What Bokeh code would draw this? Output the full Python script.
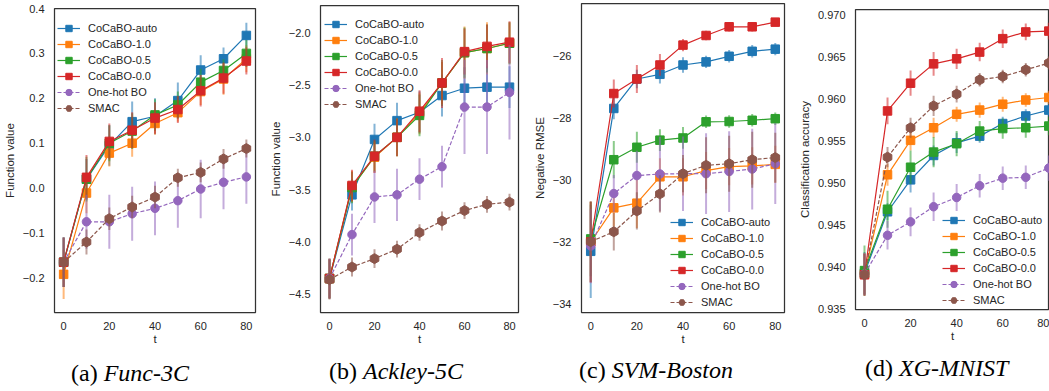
import numpy as np
from bokeh.plotting import figure
from bokeh.layouts import row, column
from bokeh.models import Legend, LegendItem, FixedTicker, Range1d, Div, GlobalInlineStyleSheet
from bokeh.embed import file_html
from bokeh.resources import INLINE

t = [0, 10, 20, 30, 40, 50, 60, 70, 80]
names = ["CoCaBO-auto", "CoCaBO-1.0", "CoCaBO-0.5", "CoCaBO-0.0", "One-hot BO", "SMAC"]
colors = ["#1f77b4", "#ff7f0e", "#2ca02c", "#d62728", "#9467bd", "#8c564b"]
markers = ["square", "square", "square", "square", "circle", "hex"]
dashes = ["solid", "solid", "solid", "solid", "4 2", "4 2"]

# (a) Func-3C
a_auto = [-0.165, 0.020, 0.095, 0.148, 0.160, 0.195, 0.263, 0.288, 0.340]
a_10 = [-0.192, -0.011, 0.078, 0.100, 0.144, 0.168, 0.215, 0.243, 0.288]
a_05 = [-0.165, 0.020, 0.100, 0.127, 0.163, 0.185, 0.236, 0.262, 0.300]
a_00 = [-0.165, 0.024, 0.104, 0.129, 0.156, 0.175, 0.217, 0.245, 0.283]
a_oh = [-0.165, -0.075, -0.075, -0.057, -0.045, -0.028, -0.002, 0.013, 0.025]
a_smac = [-0.165, -0.120, -0.068, -0.042, -0.020, 0.023, 0.035, 0.065, 0.088]
a_err_auto = [0.055, 0.045, 0.045, 0.045, 0.040, 0.040, 0.033, 0.025, 0.028]
a_err_10 = [0.055, 0.045, 0.030, 0.030, 0.025, 0.020, 0.030, 0.035, 0.030]
a_err_05 = [0.055, 0.050, 0.040, 0.040, 0.035, 0.030, 0.030, 0.025, 0.030]
a_err_00 = [0.055, 0.050, 0.040, 0.040, 0.035, 0.030, 0.035, 0.035, 0.030]
a_err_oh = [0.055, 0.060, 0.060, 0.060, 0.060, 0.060, 0.065, 0.060, 0.060]
a_err_smac = [0.055, 0.028, 0.025, 0.025, 0.025, 0.020, 0.022, 0.022, 0.020]

# (b) Ackley-5C
b_auto = [-4.35, -3.55, -3.02, -2.84, -2.76, -2.60, -2.53, -2.52, -2.52]
b_10 = [-4.35, -3.47, -3.19, -3.00, -2.77, -2.48, -2.19, -2.15, -2.10]
b_05 = [-4.35, -3.48, -3.18, -3.00, -2.79, -2.48, -2.19, -2.15, -2.10]
b_00 = [-4.35, -3.46, -3.18, -3.00, -2.75, -2.48, -2.18, -2.13, -2.09]
b_oh = [-4.35, -3.93, -3.57, -3.55, -3.40, -3.28, -2.71, -2.71, -2.57]
b_smac = [-4.36, -4.24, -4.16, -4.07, -3.91, -3.80, -3.70, -3.64, -3.62]
b_err_auto = [0.19, 0.15, 0.15, 0.17, 0.20, 0.20, 0.20, 0.20, 0.20]
b_err_10 = [0.19, 0.15, 0.15, 0.18, 0.20, 0.20, 0.25, 0.25, 0.20]
b_err_05 = [0.19, 0.15, 0.15, 0.18, 0.20, 0.22, 0.24, 0.23, 0.20]
b_err_00 = [0.19, 0.15, 0.16, 0.18, 0.20, 0.24, 0.22, 0.21, 0.20]
b_err_oh = [0.19, 0.20, 0.25, 0.25, 0.20, 0.20, 0.45, 0.45, 0.45]
b_err_smac = [0.19, 0.09, 0.09, 0.08, 0.08, 0.09, 0.08, 0.08, 0.08]

# (c) SVM-Boston
c_auto = [-32.30, -27.70, -26.75, -26.60, -26.30, -26.20, -26.02, -25.86, -25.79]
c_10 = [-32.00, -30.90, -30.75, -29.90, -29.90, -29.70, -29.57, -29.55, -29.50]
c_05 = [-31.90, -29.35, -28.95, -28.72, -28.65, -28.13, -28.12, -28.08, -28.03]
c_00 = [-32.00, -27.22, -26.75, -26.30, -25.66, -25.35, -25.07, -25.07, -24.92]
c_oh = [-32.13, -30.44, -29.86, -29.81, -29.80, -29.80, -29.73, -29.65, -29.48]
c_smac = [-31.99, -31.67, -31.00, -30.45, -29.80, -29.53, -29.48, -29.35, -29.28]
c_err_auto = [1.5, 0.35, 0.30, 0.30, 0.25, 0.20, 0.20, 0.20, 0.20]
c_err_10 = [1.3, 0.60, 0.80, 0.60, 0.60, 0.60, 0.60, 0.60, 0.60]
c_err_05 = [1.2, 0.60, 0.50, 0.35, 0.35, 0.20, 0.20, 0.20, 0.20]
c_err_00 = [1.3, 0.45, 0.45, 0.35, 0.20, 0.15, 0.15, 0.15, 0.12]
c_err_oh = [1.2, 0.60, 0.80, 1.20, 1.20, 1.30, 1.30, 1.30, 1.30]
c_err_smac = [1.3, 0.60, 0.60, 0.60, 0.60, 0.90, 0.90, 0.90, 0.80]

# (d) XG-MNIST
d_auto = [0.9393, 0.9466, 0.9504, 0.9533, 0.9548, 0.9556, 0.9571, 0.9580, 0.9587]
d_10 = [0.9392, 0.9510, 0.9551, 0.9566, 0.9582, 0.9587, 0.9594, 0.9599, 0.9602]
d_05 = [0.9396, 0.9469, 0.9519, 0.9537, 0.9547, 0.9562, 0.9565, 0.9566, 0.9568]
d_00 = [0.9391, 0.9586, 0.9619, 0.9642, 0.9648, 0.9656, 0.9672, 0.9680, 0.9681]
d_oh = [0.9392, 0.9438, 0.9454, 0.9472, 0.9483, 0.9497, 0.9506, 0.9507, 0.9518]
d_smac = [0.9391, 0.9531, 0.9566, 0.9592, 0.9606, 0.9623, 0.9627, 0.9635, 0.9643]
d_err_auto = [0.0025, 0.0010, 0.0015, 0.0012, 0.0012, 0.0008, 0.0008, 0.0008, 0.0008]
d_err_10 = [0.0025, 0.0013, 0.0012, 0.0012, 0.0009, 0.0009, 0.0009, 0.0008, 0.0008]
d_err_05 = [0.0030, 0.0022, 0.0020, 0.0018, 0.0015, 0.0012, 0.0012, 0.0012, 0.0011]
d_err_00 = [0.0025, 0.0016, 0.0015, 0.0014, 0.0012, 0.0011, 0.0011, 0.0010, 0.0010]
d_err_oh = [0.0025, 0.0017, 0.0017, 0.0017, 0.0016, 0.0014, 0.0014, 0.0014, 0.0015]
d_err_smac = [0.0025, 0.0012, 0.0012, 0.0012, 0.0010, 0.0008, 0.0008, 0.0008, 0.0008]

x_ticks = [0, 20, 40, 60, 80]
a_yticks = [-0.2, -0.1, 0.0, 0.1, 0.2, 0.3, 0.4]
a_ylabels = ["\u22120.2", "\u22120.1", "0.0", "0.1", "0.2", "0.3", "0.4"]
b_yticks = [-4.5, -4.0, -3.5, -3.0, -2.5, -2.0]
b_ylabels = ["\u22124.5", "\u22124.0", "\u22123.5", "\u22123.0", "\u22122.5", "\u22122.0"]
c_yticks = [-34, -32, -30, -28, -26]
c_ylabels = ["\u221234", "\u221232", "\u221230", "\u221228", "\u221226"]
d_yticks = [0.935, 0.940, 0.945, 0.950, 0.955, 0.960, 0.965, 0.970]
d_ylabels = ["0.935", "0.940", "0.945", "0.950", "0.955", "0.960", "0.965", "0.970"]

captions_prefix = ["(a)", "(b)", "(c)", "(d)"]
captions_name = ["Func-3C", "Ackley-5C", "SVM-Boston", "XG-MNIST"]

TXT = "#262626"
SANS = "Liberation Sans"
SERIF = "Liberation Serif"
FIG_H = 347
DIV_H = 44

panels = [
    dict(series=[a_auto, a_10, a_05, a_00, a_oh, a_smac],
         errs=[a_err_auto, a_err_10, a_err_05, a_err_00, a_err_oh, a_err_smac],
         width=266, bl=49, br=11, bt=8, bb=34, xr=(-4, 84), yr=(-0.277, 0.4),
         yt=a_yticks, yl=a_ylabels, ylab="Function value", leg=(3, 196),
         cap_left=71, cap_top=14),
    dict(series=[b_auto, b_10, b_05, b_00, b_oh, b_smac],
         errs=[b_err_auto, b_err_10, b_err_05, b_err_00, b_err_oh, b_err_smac],
         width=264, bl=47, br=12, bt=5, bb=34, xr=(-4, 84), yr=(-4.675, -1.739),
         yt=b_yticks, yl=b_ylabels, ylab="Function value", leg=(4, 200),
         cap_left=63, cap_top=12),
    dict(series=[c_auto, c_10, c_05, c_00, c_oh, c_smac],
         errs=[c_err_auto, c_err_10, c_err_05, c_err_00, c_err_oh, c_err_smac],
         width=265, bl=47, br=11, bt=3, bb=34, xr=(-4, 84), yr=(-34.27, -24.32),
         yt=c_yticks, yl=c_ylabels, ylab="Negative RMSE", leg=(89, 2),
         cap_left=49, cap_top=11),
    dict(series=[d_auto, d_10, d_05, d_00, d_oh, d_smac],
         errs=[d_err_auto, d_err_10, d_err_05, d_err_00, d_err_oh, d_err_smac],
         width=254, bl=54, br=0, bt=9, bb=38, xr=(-3.9, 80.3), yr=(0.93497, 0.97067),
         yt=d_yticks, yl=d_ylabels, ylab="Classification accuracy", leg=(87, 1),
         cap_left=70, cap_top=9),
]

cols = []
for i, cfg in enumerate(panels):
    p = figure(width=cfg["width"], height=FIG_H, output_backend="svg", toolbar_location=None,
               x_range=Range1d(*cfg["xr"]), y_range=Range1d(*cfg["yr"]),
               min_border_left=cfg["bl"], min_border_right=cfg["br"],
               min_border_top=cfg["bt"], min_border_bottom=cfg["bb"], margin=0)
    p.grid.visible = False
    p.outline_line_color = "#333333"
    p.outline_line_width = 1.25
    p.background_fill_color = "white"
    p.border_fill_color = "white"
    for ax in (p.xaxis[0], p.yaxis[0]):
        ax.axis_line_color = None
        ax.major_tick_line_color = None
        ax.minor_tick_line_color = None
        ax.major_label_text_font = SANS
        ax.major_label_text_font_size = "11px"
        ax.major_label_text_color = TXT
        ax.axis_label_text_font = SANS
        ax.axis_label_text_font_size = "11.5px"
        ax.axis_label_text_font_style = "normal"
        ax.axis_label_text_color = TXT
    p.xaxis.ticker = FixedTicker(ticks=x_ticks)
    p.xaxis.axis_label = "t"
    p.xaxis.major_label_standoff = 3
    p.xaxis.axis_label_standoff = 0
    p.yaxis.ticker = FixedTicker(ticks=cfg["yt"])
    p.yaxis.major_label_overrides = {tk: lb for tk, lb in zip(cfg["yt"], cfg["yl"])}
    p.yaxis.axis_label = cfg["ylab"]
    p.yaxis.major_label_standoff = 4
    p.yaxis.axis_label_standoff = 4

    items = []
    for s, e, nm, col, mk, ds in zip(cfg["series"], cfg["errs"], names, colors, markers, dashes):
        ys = np.array(s)
        es = np.array(e)
        p.segment(x0=t, x1=t, y0=ys - es, y1=ys + es, line_color=col, line_alpha=0.55, line_width=2)
        ln = p.line(t, s, line_color=col, line_width=1.2, line_dash=ds)
        if mk == "hex":
            mr = p.scatter(t, s, marker=mk, size=10, angle=np.pi / 2, fill_color=col, line_color=col)
        else:
            mr = p.scatter(t, s, marker=mk, size=8.5, fill_color=col, line_color=col)
        items.append(LegendItem(label=nm, renderers=[ln, mr]))

    leg = Legend(items=items, location=cfg["leg"])
    leg.border_line_color = None
    leg.background_fill_alpha = 0
    leg.label_text_font = SANS
    leg.label_text_font_size = "11px"
    leg.label_text_color = TXT
    leg.glyph_width = 23
    leg.glyph_height = 16
    leg.label_height = 16
    leg.label_standoff = 8
    leg.spacing = 0
    leg.padding = 6
    leg.margin = 0
    p.add_layout(leg)

    html = ('<div style="box-sizing:border-box;padding-left:%dpx;margin-top:%dpx;'
            'font-family:\'Liberation Serif\';font-size:24px;line-height:24px;'
            'white-space:nowrap;color:black;text-align:left">%s <i>%s</i></div>'
            % (cfg["cap_left"], cfg["cap_top"], captions_prefix[i], captions_name[i]))
    d = Div(text=html, width=cfg["width"], height=DIV_H, margin=0)
    cols.append(column(p, d, spacing=0, margin=0))

page_css = GlobalInlineStyleSheet(css="html, body { margin: 0 !important; padding: 0 !important; overflow: hidden; }")
layout = row(*cols, spacing=0, margin=0, stylesheets=[page_css])
open("out.html", "w").write(file_html(layout, INLINE))
